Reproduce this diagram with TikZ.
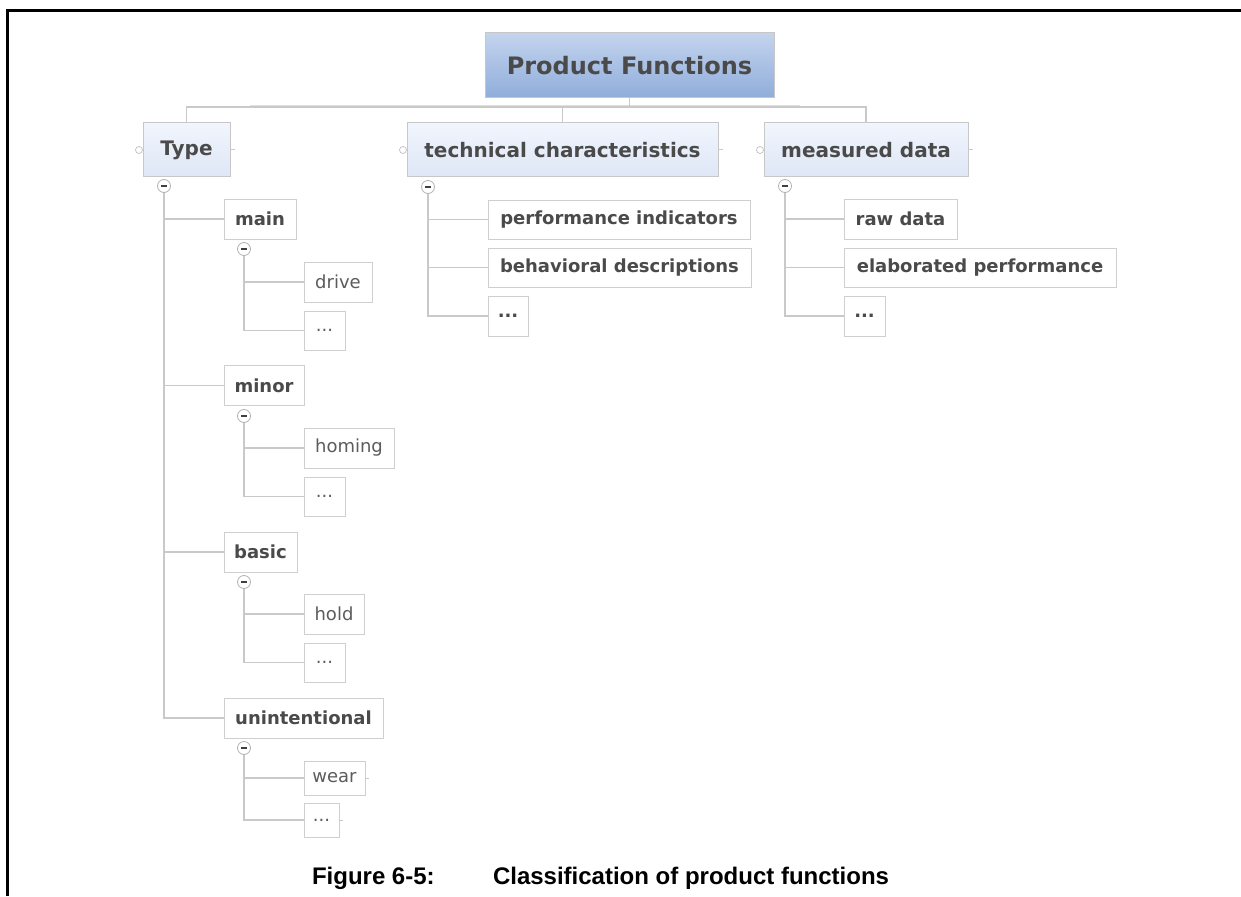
\documentclass[tikz,border=0pt]{standalone}
\usepackage{fontspec}
\setmainfont{DejaVu Sans}
\newfontfamily\capfont{Liberation Sans}
\definecolor{txt}{HTML}{4A4A4A}
\definecolor{edge}{HTML}{C9C9C9}
\definecolor{boxline}{HTML}{CFCFCF}
\definecolor{rootA}{HTML}{C4D4EE}
\definecolor{rootB}{HTML}{8FADDA}
\definecolor{topA}{HTML}{F1F5FD}
\definecolor{topB}{HTML}{DEE7F6}
\begin{document}
\begin{tikzpicture}[x=1pt,y=-1pt,
  every node/.style={inner sep=0pt,outer sep=0pt},
  conn/.style={draw=edge,line width=1.6pt},
  rootbox/.style={draw=black!22,line width=1pt,top color=rootA,bottom color=rootB,
    text=txt,font=\fontsize{24}{28}\selectfont\bfseries},
  topicbox/.style={draw=black!22,line width=1pt,top color=topA,bottom color=topB,
    minimum height=54pt,text=txt,font=\fontsize{20}{24}\selectfont\bfseries},
  subbox/.style={draw=boxline,line width=1pt,fill=white,minimum height=40pt,
    text=txt,font=\fontsize{18}{22}\selectfont\bfseries},
  leafbox/.style={draw=boxline,line width=1pt,fill=white,minimum height=40pt,
    text=txt!90,font=\fontsize{18}{22}\selectfont},
  minus/.style={circle,draw=black!30,fill=white,line width=0.8pt,minimum size=13pt,
    path picture={\draw[line width=1.6pt,black!75]
      ([xshift=-3.2pt]path picture bounding box.center) --
      ([xshift=3.2pt]path picture bounding box.center);}},
  knob/.style={circle,draw=black!25,fill=white,line width=0.7pt,minimum size=7pt},
]
\useasboundingbox (0,0) rectangle (1241,896);

% page frame (open at right and bottom)
\draw[line width=3pt] (7,896) -- (7,11) -- (1241,11);

% root and first level
\node[rootbox,minimum width=289pt,minimum height=65pt] (pf) at (629.5,65.5) {Product Functions};
\node[topicbox,minimum width=87pt]  (type) at (186.5,150) {Type};
\node[topicbox,minimum width=311pt] (tech) at (562.5,150) {technical characteristics};
\node[topicbox,minimum width=204pt] (meas) at (866,150) {measured data};

\coordinate (bus) at (629.5,107);
\draw[conn] (type.north) |- (bus);
\draw[conn] (meas.north) |- (bus);
\draw[conn] (pf.south) -- (bus);
\draw[conn] (tech.north) -- (tech.north |- bus);
\draw[draw=edge,line width=3pt,opacity=0.6] (250,107) -- (800,107);

% knobs on the first-level topics
\foreach \t in {type,tech,meas}{
  \node[knob] at ([xshift=-4pt]\t.west) {};
  \draw[draw=edge,line width=1pt] (\t.east) -- ++(5,0);
}

% Type branch
\node[minus] (tm) at (164,186) {};
\node[subbox,minimum width=72pt]  (main)  at (260,219)   {main};
\node[subbox,minimum width=80pt]  (minor) at (264,385.5) {minor};
\node[subbox,minimum width=73pt]  (basic) at (260.5,552) {basic};
\node[subbox,minimum width=159pt] (unint) at (303.5,718) {unintentional};
\foreach \c in {main,minor,basic,unint}{\draw[conn] (tm.south) |- (\c.west);}

\node[minus] (mm) at (244,249) {};
\node[leafbox,minimum width=68pt] (drive) at (338,282)   {drive};
\node[leafbox,minimum width=41pt,minimum height=39pt] (d1) at (324.5,330.5) {...};
\draw[conn] (mm.south) |- (drive.west);
\draw[conn] (mm.south) |- (d1.west);

\node[minus] (nm) at (244,416) {};
\node[leafbox,minimum width=90pt] (homing) at (349,448) {homing};
\node[leafbox,minimum width=41pt,minimum height=39pt] (d2) at (324.5,496.5) {...};
\draw[conn] (nm.south) |- (homing.west);
\draw[conn] (nm.south) |- (d2.west);

\node[minus] (bm) at (244,582) {};
\node[leafbox,minimum width=60pt] (hold) at (334,614) {hold};
\node[leafbox,minimum width=41pt,minimum height=39pt] (d3) at (324.5,662.5) {...};
\draw[conn] (bm.south) |- (hold.west);
\draw[conn] (bm.south) |- (d3.west);

\node[minus] (um) at (244,748) {};
\node[leafbox,minimum width=61pt,minimum height=34pt] (wear) at (334.5,778) {wear};
\node[leafbox,minimum width=35pt,minimum height=34pt] (d4) at (321.5,820) {...};
\draw[conn] (um.south) |- (wear.west);
\draw[conn] (um.south) |- (d4.west);
\draw[draw=edge,line width=1pt] (wear.east) -- ++(4,0);
\draw[draw=edge,line width=1pt] (d4.east) -- ++(4,0);

% technical characteristics branch
\node[minus] (km) at (428,187) {};
\node[subbox,minimum width=262pt,minimum height=39pt] (perf)  at (619,219.5)   {performance indicators};
\node[subbox,minimum width=263pt,minimum height=39pt] (behav) at (619.5,267.5) {behavioral descriptions};
\node[subbox,minimum width=40pt] (d5) at (508,316) {...};
\foreach \c in {perf,behav,d5}{\draw[conn] (km.south) |- (\c.west);}

% measured data branch
\node[minus] (dm) at (785,186) {};
\node[subbox,minimum width=113pt] (raw)  at (900.5,219)  {raw data};
\node[subbox,minimum width=272pt,minimum height=39pt] (elab) at (980,267.5) {elaborated performance};
\node[subbox,minimum width=41pt] (d6) at (864.5,316) {...};
\foreach \c in {raw,elab,d6}{\draw[conn] (dm.south) |- (\c.west);}

% caption
\node[anchor=base west,font=\capfont\bfseries\fontsize{24}{28}\selectfont] (figno) at (312,884) {Figure 6-5:};
\node[anchor=base west,font=\capfont\bfseries\fontsize{24}{28}\selectfont] (figtitle) at (493,884) {Classification of product functions};
\end{tikzpicture}
\end{document}
